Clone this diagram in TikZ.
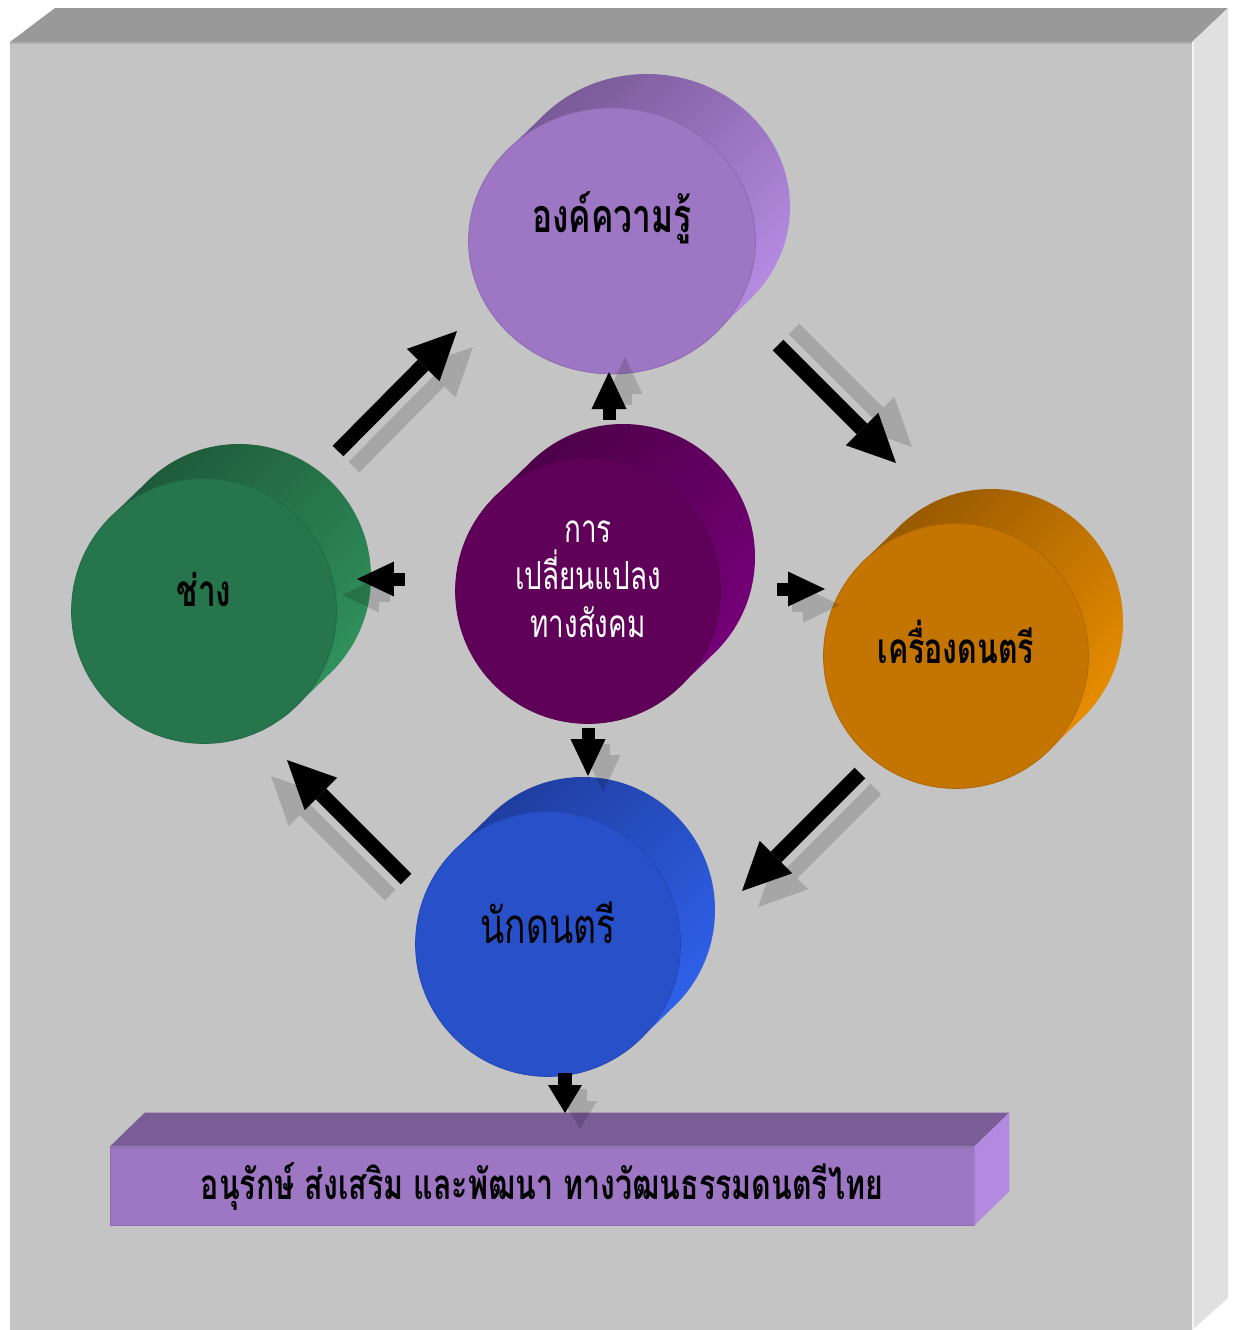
\documentclass[tikz,border=0pt]{standalone}
\usepackage{fontspec}
\newfontfamily\thai[Script=Thai,FakeStretch=0.72]{Loma}
\usetikzlibrary{arrows.meta,shapes.geometric}

\definecolor{wallfront}{HTML}{C4C4C4}
\definecolor{walltop}{HTML}{999999}
\definecolor{wallside}{HTML}{E0E0E0}
\definecolor{wallline}{HTML}{B0B0B0}
\definecolor{knF}{HTML}{9E77C4}
\definecolor{knD}{HTML}{7A5A98}
\definecolor{knL}{HTML}{B58BE2}
\definecolor{chF}{HTML}{5F0059}
\definecolor{chD}{HTML}{4E0049}
\definecolor{chL}{HTML}{750078}
\definecolor{grF}{HTML}{26754C}
\definecolor{grD}{HTML}{1E5B3B}
\definecolor{grL}{HTML}{30905C}
\definecolor{itF}{HTML}{C47400}
\definecolor{itD}{HTML}{9A5A00}
\definecolor{itL}{HTML}{E68C00}
\definecolor{muF}{HTML}{2850C8}
\definecolor{muD}{HTML}{1F3EA0}
\definecolor{muL}{HTML}{2E60E8}
\definecolor{barT}{HTML}{7A5C97}
\definecolor{barS}{HTML}{B48AE0}

\tikzset{
  disc/.style    = {circle, inner sep=0pt, minimum size=5.3cm, thin, draw=#1!88!black, fill=#1},
  lbl/.style     = {font=\thai\bfseries\fontsize{24}{28}\selectfont, text=black, inner sep=0pt},
  bigarrow/.style   = {line width=0.3cm, -{Triangle[length=0.96cm, width=0.92cm, line width=0pt]}},
  smallarrow/.style = {line width=0.26cm, -{Triangle[length=0.74cm, width=0.7cm, line width=0pt]}},
  lastarrow/.style  = {line width=0.28cm, -{Triangle[length=0.56cm, width=0.68cm, line width=0pt]}},
  shadow/.style     = {black, opacity=0.15}
}

\begin{document}
\begin{tikzpicture}[x=0.02cm, y=-0.02cm]

\fill[white] (0,0) rectangle (1233,1330);
\useasboundingbox (0,0) rectangle (1233,1330);

% the grey box behind everything
\fill[wallfront] (10,42) rectangle (1192,1330);
\fill[walltop] (10,42) -- (55,8) -- (1228,8) -- (1192,42) -- cycle;
\fill[wallside] (1192,42) -- (1228,8) -- (1228,1298) -- (1192,1330) -- cycle;
\draw[wallline, line width=0.05cm] (10,43) -- (1192,43);
\draw[white!92!gray, line width=0.05cm] (1193,42) -- (1193,1330);

% the back of every disc
\foreach \cx/\cy/\rx/\ry/\dk/\lt in {612/241/143/133/knD/knL, 204/611/132/133/grD/grL,
    588/591/132/133/chD/chL, 956/656/132/133/itD/itL, 548/944/132/133/muD/muL}
  \shade[top color=\dk, bottom color=\lt, shading angle=45]
    (\cx+35,\cy-34) ellipse [x radius=\rx, y radius=\ry]
    (\cx-0.707*\rx,\cy-0.707*\ry) -- (\cx+35-0.707*\rx,\cy-34-0.707*\ry)
    -- (\cx+35+0.707*\rx,\cy-34+0.707*\ry) -- (\cx+0.707*\rx,\cy+0.707*\ry) -- cycle;

% the front of every disc
\node[disc=knF, ellipse, minimum width=5.74cm, minimum height=5.32cm] (kn) at (612,241) {};
\node[disc=grF] (gr) at (204,611) {};
\node[disc=chF] (ch) at (588,591) {};
\node[disc=itF] (it) at (956,656) {};
\node[disc=muF] (mu) at (548,944) {};

\node[lbl, anchor=base, font=\thai\bfseries\fontsize{26.5}{30}\selectfont] (knt) at ([yshift=0.18cm]kn.center) {องค์ความรู้};
\node[lbl, anchor=base, font=\thai\bfseries\fontsize{25}{30}\selectfont] (grt) at ([yshift=0.1cm]gr.center) {ช่าง};
\node[lbl, anchor=base] (itt) at ([yshift=-0.14cm]it.center) {เครื่องดนตรี};
\node[lbl, anchor=base, font=\thai\fontsize{28}{32}\selectfont] (mut) at ([yshift=0.02cm]mu.center) {นักดนตรี};
\node[lbl, align=center, text=white, font=\thai\fontsize{22}{27}\selectfont] (cht)
  at ([yshift=0.24cm]ch.center) {การ\\เปลี่ยนแปลง\\ทางสังคม};

% the bar at the bottom
\node[lbl, fill=knF, draw=knF!90!black, thin, minimum width=17.28cm, minimum height=1.56cm]
  (goal) at (542,1186) {อนุรักษ์ ส่งเสริม และพัฒนา ทางวัฒนธรรมดนตรีไทย};
\fill[barT] (goal.north west) -- ++(35,-34) -- ([shift={(35,-34)}]goal.north east) -- (goal.north east) -- cycle;
\fill[barS] (goal.north east) -- ++(35,-34) -- ([shift={(35,-34)}]goal.south east) -- (goal.south east) -- cycle;

% ends of the arrows
\foreach \n/\x/\y in {gk1/338/451, gk2/457/331, ki1/778/345, ki2/896/463,
    im1/860/773, im2/742/891, mg1/406/879, mg2/287/760,
    ck1/609/420, ck2/609/372, cg1/405/579, cg2/357/579,
    ci1/777/589, ci2/825/589, cm1/588/728, cm2/588/776, mb1/565/1073, mb2/565/1113}
  \coordinate (\n) at (\x,\y);

% shadows
\foreach \s/\t/\dx/\dy in {gk1/gk2/16/16, ki1/ki2/16/-16, im1/im2/16/16, mg1/mg2/-16/16}
  \draw[bigarrow, shadow] ([shift={(\dx,\dy)}]\s) -- ([shift={(\dx,\dy)}]\t);
\foreach \s/\t/\dx/\dy in {ck1/ck2/16/-15, cg1/cg2/-15/16, ci1/ci2/15/16, cm1/cm2/15/16}
  \draw[smallarrow, shadow] ([shift={(\dx,\dy)}]\s) -- ([shift={(\dx,\dy)}]\t);
\draw[lastarrow, shadow] ([shift={(15,16)}]mb1) -- ([shift={(15,16)}]mb2);

% arrows
\foreach \s/\t in {gk1/gk2, ki1/ki2, im1/im2, mg1/mg2}
  \draw[bigarrow] (\s) -- (\t);
\foreach \s/\t in {ck1/ck2, cg1/cg2, ci1/ci2, cm1/cm2}
  \draw[smallarrow] (\s) -- (\t);
\draw[lastarrow] (mb1) -- (mb2);

\end{tikzpicture}
\end{document}
